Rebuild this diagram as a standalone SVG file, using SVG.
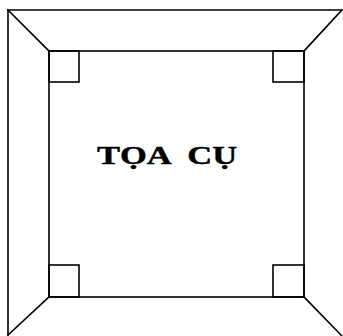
<svg xmlns="http://www.w3.org/2000/svg" width="343" height="336" viewBox="0 0 343 336">
<style>
.ln{fill:none;stroke:#000;stroke-width:1.6;stroke-linecap:square}
.lbl{font-family:"Liberation Serif","Times New Roman",serif;font-weight:bold;font-size:25px;fill:#000;stroke:#000;stroke-width:0.4}
</style>
<rect width="343" height="336" fill="#fff"/>
<g id="frame">
<polyline class="ln" points="8,335 8,10 342,10"/>
<rect class="ln" x="49" y="51" width="255" height="246"/>
</g>
<g id="connectors">
<line class="ln" x1="8" y1="10" x2="49" y2="51"/>
<line class="ln" x1="342" y1="10" x2="304" y2="51"/>
<line class="ln" x1="8" y1="335" x2="49" y2="297"/>
<line class="ln" x1="342" y1="336" x2="304" y2="297"/>
</g>
<g id="corner-tl"><rect class="ln" x="49" y="51" width="30" height="31"/></g>
<g id="corner-tr"><rect class="ln" x="273" y="51" width="31" height="31"/></g>
<g id="corner-bl"><rect class="ln" x="49" y="265" width="30" height="32"/></g>
<g id="corner-br"><rect class="ln" x="273" y="265" width="31" height="32"/></g>
<g id="label">
<text class="lbl" transform="matrix(1.38,0,0,1,97,163.5)" x="0" y="0">TỌA<tspan dx="5"> CỤ</tspan></text>
</g>
</svg>
